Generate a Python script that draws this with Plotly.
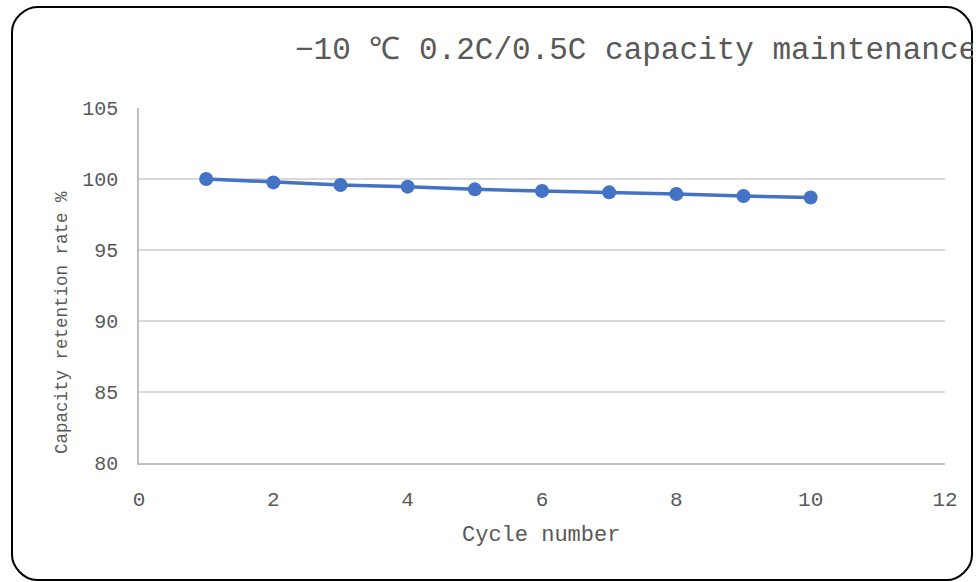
import plotly.graph_objects as go

# Capacity retention at -10 °C, cycles 1-10
cycles = [1, 2, 3, 4, 5, 6, 7, 8, 9, 10]
retention = [100.0, 99.76, 99.58, 99.46, 99.27, 99.15, 99.06, 98.94, 98.80, 98.70]

title_text = "−10 ℃ 0.2C/0.5C capacity maintenance"
x_title = "Cycle number"
y_title = "Capacity retention rate %"

FONT = "Liberation Mono, Courier New, monospace"
TEXT_GREY = "#595959"

W, H = 973, 582
L, R, T, B = 139, 28, 108, 119
PW, PH = W - L - R, H - T - B


def px_x(p):
    return (p - L) / PW


def px_y(p):
    return (H - B - p) / PH


fig = go.Figure()
fig.add_trace(go.Scatter(
    x=cycles, y=retention, mode="lines+markers",
    line=dict(color="#4472C4", width=3.5),
    marker=dict(color="#4472C4", size=14),
    showlegend=False,
))

# rounded outer frame (cubic arcs, radius in pixels)
x0, x1 = px_x(12), px_x(972)
y0, y1 = px_y(580), px_y(7)
rx, ry = 25 / PW, 25 / PH
k = 0.45
path = (
    f"M {x0 + rx} {y1} L {x1 - rx} {y1} "
    f"C {x1 - rx * k} {y1} {x1} {y1 - ry * (1 - k)} {x1} {y1 - ry} "
    f"L {x1} {y0 + ry} "
    f"C {x1} {y0 + ry * k} {x1 - rx * (1 - k)} {y0} {x1 - rx} {y0} "
    f"L {x0 + rx} {y0} "
    f"C {x0 + rx * k} {y0} {x0} {y0 + ry * (1 - k)} {x0} {y0 + ry} "
    f"L {x0} {y1 - ry} "
    f"C {x0} {y1 - ry * k} {x0 + rx * (1 - k)} {y1} {x0 + rx} {y1} Z"
)
fig.add_shape(type="path", xref="paper", yref="paper", path=path,
              line=dict(color="black", width=2), layer="below")

fig.add_annotation(text=title_text, xref="paper", yref="paper",
                   x=px_x(293), y=px_y(50), xanchor="left", yanchor="middle",
                   showarrow=False, font=dict(family=FONT, size=31, color=TEXT_GREY))
fig.add_annotation(text=x_title, xref="paper", yref="paper",
                   x=px_x(541), y=px_y(535), xanchor="center", yanchor="middle",
                   showarrow=False, font=dict(family=FONT, size=22, color=TEXT_GREY))
fig.add_annotation(text=y_title, xref="paper", yref="paper", textangle=-90,
                   x=px_x(62), y=px_y(323), xanchor="center", yanchor="middle",
                   showarrow=False, font=dict(family=FONT, size=17.5, color=TEXT_GREY))

fig.update_layout(
    width=W, height=H,
    margin=dict(l=L, r=R, t=T, b=B, pad=0),
    paper_bgcolor="white", plot_bgcolor="white",
    font=dict(family=FONT, color=TEXT_GREY),
    xaxis=dict(range=[0, 12], dtick=2, tick0=0, showgrid=False, zeroline=False,
               showline=True, linecolor="#bfbfbf", linewidth=1.5,
               ticks="", ticklabelstandoff=16,
               tickfont=dict(family=FONT, size=21, color=TEXT_GREY)),
    yaxis=dict(range=[80, 105], dtick=5, tick0=80, showgrid=True,
               gridcolor="#d9d9d9", gridwidth=1.5, zeroline=False,
               showline=True, linecolor="#bfbfbf", linewidth=1.5,
               ticks="", ticklabelstandoff=15,
               tickfont=dict(family=FONT, size=20, color=TEXT_GREY)),
)

fig.write_html("out.html")
